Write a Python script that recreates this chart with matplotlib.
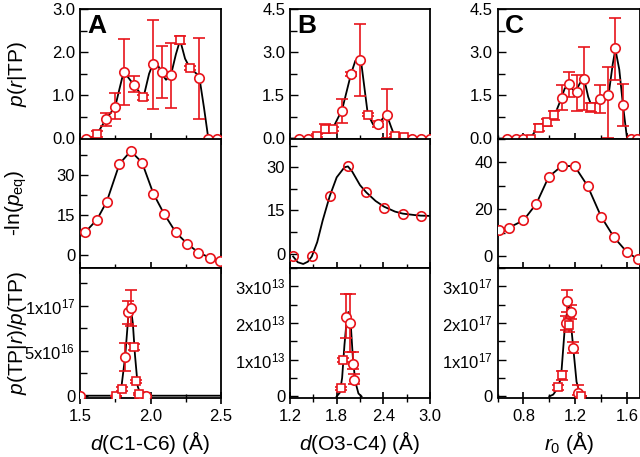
import matplotlib
matplotlib.use('Agg')
import matplotlib.pyplot as plt
from matplotlib.ticker import MultipleLocator, FixedLocator, FixedFormatter, FormatStrFormatter

plt.rcParams['font.family'] = ['Liberation Sans', 'DejaVu Sans']
plt.rcParams['mathtext.fontset'] = 'custom'
plt.rcParams['mathtext.rm'] = 'Liberation Sans'
plt.rcParams['mathtext.it'] = 'Liberation Sans:italic'
plt.rcParams['mathtext.bf'] = 'Liberation Sans:bold'

# ---------------- column A : d(C1-C6) ----------------
a_top_circ_x = [1.54, 1.685, 1.75, 1.81, 1.88, 2.02, 2.08, 2.145, 2.345, 2.41, 2.47]
a_top_circ_y = [0, 0.45, 0.74, 1.55, 1.25, 1.72, 1.53, 1.47, 1.40, 0, 0]
a_top_circ_lo = [0, 0.30, 0.46, 0.78, 1.07, 0.68, 0.93, 0.70, 0.45, 0, 0]
a_top_circ_hi = [0, 0.60, 1.05, 2.30, 1.44, 2.75, 2.15, 2.22, 2.32, 0, 0]
a_top_sq_x = [1.62, 1.95, 2.21, 2.28]
a_top_sq_y = [0.10, 0.95, 2.28, 1.63]
a_top_sq_lo = [0.03, 0.90, 2.18, 1.58]
a_top_sq_hi = [0.17, 1.00, 2.38, 1.68]
a_top_fit_x = [1.50, 1.54, 1.58, 1.62, 1.685, 1.75, 1.78, 1.81, 1.85, 1.88, 1.95, 1.99,
               2.02, 2.05, 2.08, 2.11, 2.145, 2.18, 2.21, 2.245, 2.28, 2.345, 2.38, 2.41, 2.50]
a_top_fit_y = [0, 0, 0.02, 0.10, 0.45, 0.74, 1.15, 1.55, 1.38, 1.25, 0.95, 1.50,
               1.75, 1.72, 1.50, 1.36, 1.47, 1.95, 2.28, 1.85, 1.63, 1.45, 0.70, 0, 0]

a_mid_x = [1.535, 1.62, 1.69, 1.78, 1.86, 1.94, 2.02, 2.095, 2.18, 2.26, 2.34, 2.42, 2.49]
a_mid_y = [8.3, 13.1, 19.9, 34.0, 38.8, 34.5, 22.9, 15.4, 8.3, 4.1, 0.8, -1.1, -2.2]

a_bot_circ_x = [1.50, 1.82, 1.84, 1.86, 1.94, 1.97]
a_bot_circ_y = [0, 4.3e16, 9.3e16, 9.8e16, 0, 0]
a_bot_circ_lo = [0, 2.8e16, 8.0e16, 7.7e16, 0, 0]
a_bot_circ_hi = [0, 5.9e16, 1.05e17, 1.18e17, 0, 0]
a_bot_sq_x = [1.755, 1.80, 1.885, 1.90, 1.92]
a_bot_sq_y = [0, 0.75e16, 5.4e16, 1.6e16, 0.2e16]
a_bot_sq_lo = [0, 0.5e16, 5.1e16, 1.4e16, 0.1e16]
a_bot_sq_hi = [0, 1.0e16, 5.7e16, 1.8e16, 0.3e16]
a_bot_fit_x = [1.50, 1.76, 1.79, 1.82, 1.845, 1.86, 1.875, 1.89, 1.91, 1.93, 1.96, 2.50]
a_bot_fit_y = [0, 0, 0.5e16, 4.3e16, 9.3e16, 9.8e16, 8.0e16, 4.5e16, 1.0e16, 0.1e16, 0, 0]

# ---------------- column B : d(O3-C4) ----------------
b_top_circ_x = [1.32, 1.43, 1.87, 1.985, 2.10, 2.33, 2.45, 2.77, 2.88, 3.0]
b_top_circ_y = [0, 0, 0.97, 2.25, 2.72, 0.50, 0.80, 0, 0, 0]
b_top_circ_lo = [0, 0, 0.53, 2.18, 1.46, 0.40, 0.02, 0, 0, 0]
b_top_circ_hi = [0, 0, 1.38, 2.32, 3.97, 0.60, 1.73, 0, 0, 0]
b_top_sq_x = [1.545, 1.65, 1.75, 2.20, 2.55, 2.66]
b_top_sq_y = [0.10, 0.33, 0.33, 0.83, 0.10, 0.05]
b_top_sq_lo = [0.05, 0.20, 0.25, 0.78, 0.06, 0.02]
b_top_sq_hi = [0.15, 0.50, 0.40, 0.88, 0.14, 0.08]
b_top_fit_x = [1.20, 1.45, 1.545, 1.65, 1.75, 1.87, 1.985, 2.04, 2.08, 2.12, 2.20, 2.27,
               2.33, 2.40, 2.45, 2.50, 2.55, 2.62, 3.0]
b_top_fit_y = [0, 0, 0.08, 0.30, 0.35, 1.00, 2.25, 2.70, 2.80, 2.55, 0.85, 0.48,
               0.48, 0.72, 0.78, 0.40, 0.05, 0, 0]

b_mid_x = [1.24, 1.48, 1.71, 1.945, 2.18, 2.41, 2.65, 2.88]
b_mid_y = [-1.0, -1.0, 19.9, 30.3, 21.3, 16.0, 13.9, 13.2]
b_mid_fit_x = [1.24, 1.30, 1.37, 1.43, 1.48, 1.55, 1.62, 1.71, 1.80, 1.90, 1.945, 2.00,
               2.10, 2.18, 2.30, 2.41, 2.55, 2.65, 2.80, 2.88, 3.0]
b_mid_fit_y = [-1.0, -3.0, -3.6, -2.8, -1.0, 4.0, 11.5, 19.9, 26.5, 30.0, 30.3, 28.5,
               23.8, 21.3, 18.3, 16.3, 14.6, 13.9, 13.4, 13.2, 13.1]

b_bot_circ_x = [1.92, 1.97, 2.01, 2.02]
b_bot_circ_y = [2.17e13, 2.0e13, 0.87e13, 0.45e13]
b_bot_circ_lo = [1.58e13, 1.2e13, 0.75e13, 0.35e13]
b_bot_circ_hi = [2.80e13, 2.8e13, 1.2e13, 0.6e13]
b_bot_sq_x = [1.855, 1.885]
b_bot_sq_y = [0.22e13, 1.0e13]
b_bot_sq_lo = [0.18e13, 0.95e13]
b_bot_sq_hi = [0.26e13, 1.05e13]
b_bot_fit_x = [1.80, 1.84, 1.87, 1.90, 1.93, 1.95, 1.98, 2.01, 2.04, 2.08, 2.12]
b_bot_fit_y = [0, 0.1e13, 0.5e13, 1.4e13, 2.1e13, 2.3e13, 2.0e13, 1.0e13, 0.4e13, 0.08e13, 0]

# ---------------- column C : r0 ----------------
c_top_circ_x = [0.675, 0.74, 0.80, 1.097, 1.15, 1.21, 1.265, 1.39, 1.45, 1.51, 1.57, 1.63, 1.68]
c_top_circ_y = [0, 0, 0, 1.40, 1.88, 1.60, 2.08, 1.38, 1.50, 3.13, 1.15, 0, 0]
c_top_circ_lo = [0, 0, 0, 0.98, 1.45, 0.95, 1.00, 0.89, 0.02, 2.02, 0.42, 0, 0]
c_top_circ_hi = [0, 0, 0, 1.85, 2.30, 2.20, 3.17, 1.85, 2.47, 4.20, 1.88, 0, 0]
c_top_sq_x = [0.86, 0.917, 0.98, 1.035, 1.325]
c_top_sq_y = [0, 0.37, 0.56, 0.80, 1.08]
c_top_sq_lo = [0, 0.25, 0.45, 0.65, 0.93]
c_top_sq_hi = [0, 0.50, 0.68, 0.95, 1.23]
c_top_fit_x = [0.60, 0.85, 0.90, 0.95, 1.00, 1.04, 1.08, 1.12, 1.16, 1.20, 1.24, 1.27,
               1.30, 1.33, 1.37, 1.42, 1.46, 1.49, 1.51, 1.54, 1.57, 1.60, 1.70]
c_top_fit_y = [0, 0, 0.30, 0.52, 0.65, 0.80, 1.25, 1.75, 1.80, 1.62, 1.95, 2.05,
               1.45, 1.08, 1.30, 1.35, 1.60, 2.60, 3.10, 2.40, 1.10, 0, 0]

c_mid_x = [0.61, 0.69, 0.80, 0.90, 0.995, 1.095, 1.195, 1.295, 1.40, 1.50, 1.60, 1.685]
c_mid_y = [11.0, 12.2, 15.2, 22.3, 33.7, 38.3, 38.3, 29.9, 16.8, 8.0, 1.7, -1.3]

c_bot_circ_x = [1.125, 1.14, 1.17, 1.18, 1.225]
c_bot_circ_y = [2.0e17, 2.6e17, 2.3e17, 1.33e17, 0.1e17]
c_bot_circ_lo = [1.8e17, 2.3e17, 2.1e17, 1.18e17, 0.05e17]
c_bot_circ_hi = [2.2e17, 2.9e17, 2.5e17, 1.48e17, 0.3e17]
c_bot_sq_x = [1.07, 1.095, 1.155, 1.245]
c_bot_sq_y = [0.25e17, 0.58e17, 1.95e17, 0]
c_bot_sq_lo = [0.18e17, 0.45e17, 1.75e17, 0]
c_bot_sq_hi = [0.32e17, 0.70e17, 2.15e17, 0.02e17]
c_bot_fit_x = [1.00, 1.03, 1.06, 1.09, 1.12, 1.15, 1.18, 1.21, 1.24, 1.26]
c_bot_fit_y = [0, 0.05e17, 0.2e17, 0.5e17, 1.9e17, 2.6e17, 1.5e17, 0.4e17, 0.02e17, 0]

RED = '#e8141b'
MS = 6.8


def err_pts(ax, x, y, lo, hi, marker):
    yerr = [[v - l for v, l in zip(y, lo)], [h - v for v, h in zip(y, hi)]]
    ax.errorbar(x, y, yerr=yerr, fmt=marker, ms=MS if marker == 'o' else MS - 0.6,
                mfc='white', mec=RED, mew=1.2,
                ecolor=RED, elinewidth=1.2, capsize=4, capthick=1.2, zorder=3)


def style(ax, xlim, ylim, xmaj, xmin, ymaj, ymin):
    ax.set_xlim(xlim)
    ax.set_ylim(ylim)
    ax.xaxis.set_major_locator(MultipleLocator(xmaj))
    ax.xaxis.set_minor_locator(MultipleLocator(xmin))
    ax.yaxis.set_major_locator(MultipleLocator(ymaj))
    ax.yaxis.set_minor_locator(MultipleLocator(ymin))
    ax.tick_params(axis='x', which='major', direction='inout', length=9, width=1.2)
    ax.tick_params(axis='x', which='minor', direction='inout', length=6, width=1.0)
    ax.tick_params(axis='y', which='major', direction='in', length=6, width=1.0)
    ax.tick_params(axis='y', which='minor', direction='in', length=5, width=1.0)
    ax.tick_params(labelsize=12)
    for s in ax.spines.values():
        s.set_linewidth(1.3)


fig = plt.figure(figsize=(6.4, 4.57), dpi=100)
W, H = 640, 457
lefts = [80, 290, 497.5]
widths = [141, 140, 142.5]
tops = [9, 138.5, 268]
ph = 129.5

axes = [[None] * 3 for _ in range(3)]
for c in range(3):
    for r in range(3):
        axes[r][c] = fig.add_axes([lefts[c] / W, 1 - (tops[r] + ph) / H, widths[c] / W, ph / H])

# column A
ax = axes[0][0]
ax.plot(a_top_fit_x, a_top_fit_y, color='black', lw=1.3, zorder=2)
err_pts(ax, a_top_circ_x, a_top_circ_y, a_top_circ_lo, a_top_circ_hi, 'o')
err_pts(ax, a_top_sq_x, a_top_sq_y, a_top_sq_lo, a_top_sq_hi, 's')
style(ax, (1.5, 2.5), (0, 3.0), 0.5, 0.25, 1.0, 0.5)
ax.yaxis.set_major_formatter(FormatStrFormatter('%.1f'))

ax = axes[1][0]
ax.plot(a_mid_x, a_mid_y, color='black', lw=1.3, zorder=2)
ax.plot(a_mid_x, a_mid_y, 'o', ms=MS, mfc='white', mec=RED, mew=1.2, zorder=3)
style(ax, (1.5, 2.5), (-5, 43.5), 0.5, 0.25, 15, 7.5)

ax = axes[2][0]
ax.plot(a_bot_fit_x, a_bot_fit_y, color='black', lw=1.3, zorder=2)
err_pts(ax, a_bot_circ_x, a_bot_circ_y, a_bot_circ_lo, a_bot_circ_hi, 'o')
err_pts(ax, a_bot_sq_x, a_bot_sq_y, a_bot_sq_lo, a_bot_sq_hi, 's')
style(ax, (1.5, 2.5), (-0.2e16, 1.42e17), 0.5, 0.25, 5e16, 2.5e16)
ax.yaxis.set_major_locator(FixedLocator([0, 5e16, 1e17]))
ax.yaxis.set_major_formatter(FixedFormatter(['0', r'5x10$^{16}$', r'1x10$^{17}$']))

# column B
ax = axes[0][1]
ax.plot(b_top_fit_x, b_top_fit_y, color='black', lw=1.3, zorder=2)
err_pts(ax, b_top_circ_x, b_top_circ_y, b_top_circ_lo, b_top_circ_hi, 'o')
err_pts(ax, b_top_sq_x, b_top_sq_y, b_top_sq_lo, b_top_sq_hi, 's')
style(ax, (1.2, 3.0), (0, 4.5), 0.6, 0.3, 1.5, 0.75)
ax.yaxis.set_major_formatter(FormatStrFormatter('%.1f'))

ax = axes[1][1]
ax.plot(b_mid_fit_x, b_mid_fit_y, color='black', lw=1.3, zorder=2)
ax.plot(b_mid_x, b_mid_y, 'o', ms=MS, mfc='none', mec=RED, mew=1.2, zorder=3)
style(ax, (1.2, 3.0), (-5, 40), 0.6, 0.3, 15, 7.5)

ax = axes[2][1]
ax.plot(b_bot_fit_x, b_bot_fit_y, color='black', lw=1.3, zorder=2)
err_pts(ax, b_bot_circ_x, b_bot_circ_y, b_bot_circ_lo, b_bot_circ_hi, 'o')
err_pts(ax, b_bot_sq_x, b_bot_sq_y, b_bot_sq_lo, b_bot_sq_hi, 's')
style(ax, (1.2, 3.0), (-0.03e13, 3.5e13), 0.6, 0.3, 1e13, 0.5e13)
ax.yaxis.set_major_locator(FixedLocator([0, 1e13, 2e13, 3e13]))
ax.yaxis.set_major_formatter(FixedFormatter(['0', r'1x10$^{13}$', r'2x10$^{13}$', r'3x10$^{13}$']))

# column C
ax = axes[0][2]
ax.plot(c_top_fit_x, c_top_fit_y, color='black', lw=1.3, zorder=2)
err_pts(ax, c_top_circ_x, c_top_circ_y, c_top_circ_lo, c_top_circ_hi, 'o')
err_pts(ax, c_top_sq_x, c_top_sq_y, c_top_sq_lo, c_top_sq_hi, 's')
style(ax, (0.6, 1.7), (0, 4.5), 0.4, 0.2, 1.5, 0.75)
ax.yaxis.set_major_formatter(FormatStrFormatter('%.1f'))

ax = axes[1][2]
ax.plot(c_mid_x, c_mid_y, color='black', lw=1.3, zorder=2)
ax.plot(c_mid_x, c_mid_y, 'o', ms=MS, mfc='white', mec=RED, mew=1.2, zorder=3)
style(ax, (0.6, 1.7), (-5, 50), 0.4, 0.2, 20, 10)

ax = axes[2][2]
ax.plot(c_bot_fit_x, c_bot_fit_y, color='black', lw=1.3, zorder=2)
err_pts(ax, c_bot_circ_x, c_bot_circ_y, c_bot_circ_lo, c_bot_circ_hi, 'o')
err_pts(ax, c_bot_sq_x, c_bot_sq_y, c_bot_sq_lo, c_bot_sq_hi, 's')
style(ax, (0.6, 1.7), (-0.03e17, 3.5e17), 0.4, 0.2, 1e17, 0.5e17)
ax.yaxis.set_major_locator(FixedLocator([0, 1e17, 2e17, 3e17]))
ax.yaxis.set_major_formatter(FixedFormatter(['0', r'1x10$^{17}$', r'2x10$^{17}$', r'3x10$^{17}$']))

# x tick labels only on the bottom row
for r in range(2):
    for c in range(3):
        axes[r][c].tick_params(labelbottom=False)

for c, letter in enumerate(['A', 'B', 'C']):
    axes[0][c].text(0.05, 0.96, letter, transform=axes[0][c].transAxes,
                    fontsize=19, fontweight='bold', va='top', ha='left')

axes[0][0].set_ylabel(r'$p$($r$|TP)', fontsize=15)
axes[1][0].set_ylabel(r'-ln($p_{\rm eq}$)', fontsize=15)
axes[2][0].set_ylabel(r'$p$(TP|$r$)/$p$(TP)', fontsize=15)
for r in range(3):
    axes[r][0].yaxis.set_label_coords(-0.36, 0.5)

axes[2][0].set_xlabel(r'$d$(C1-C6) (Å)', fontsize=15)
axes[2][1].set_xlabel(r'$d$(O3-C4) (Å)', fontsize=15)
axes[2][2].set_xlabel(r'$r_0$ (Å)', fontsize=15)

fig.savefig('out.png', dpi=100)
